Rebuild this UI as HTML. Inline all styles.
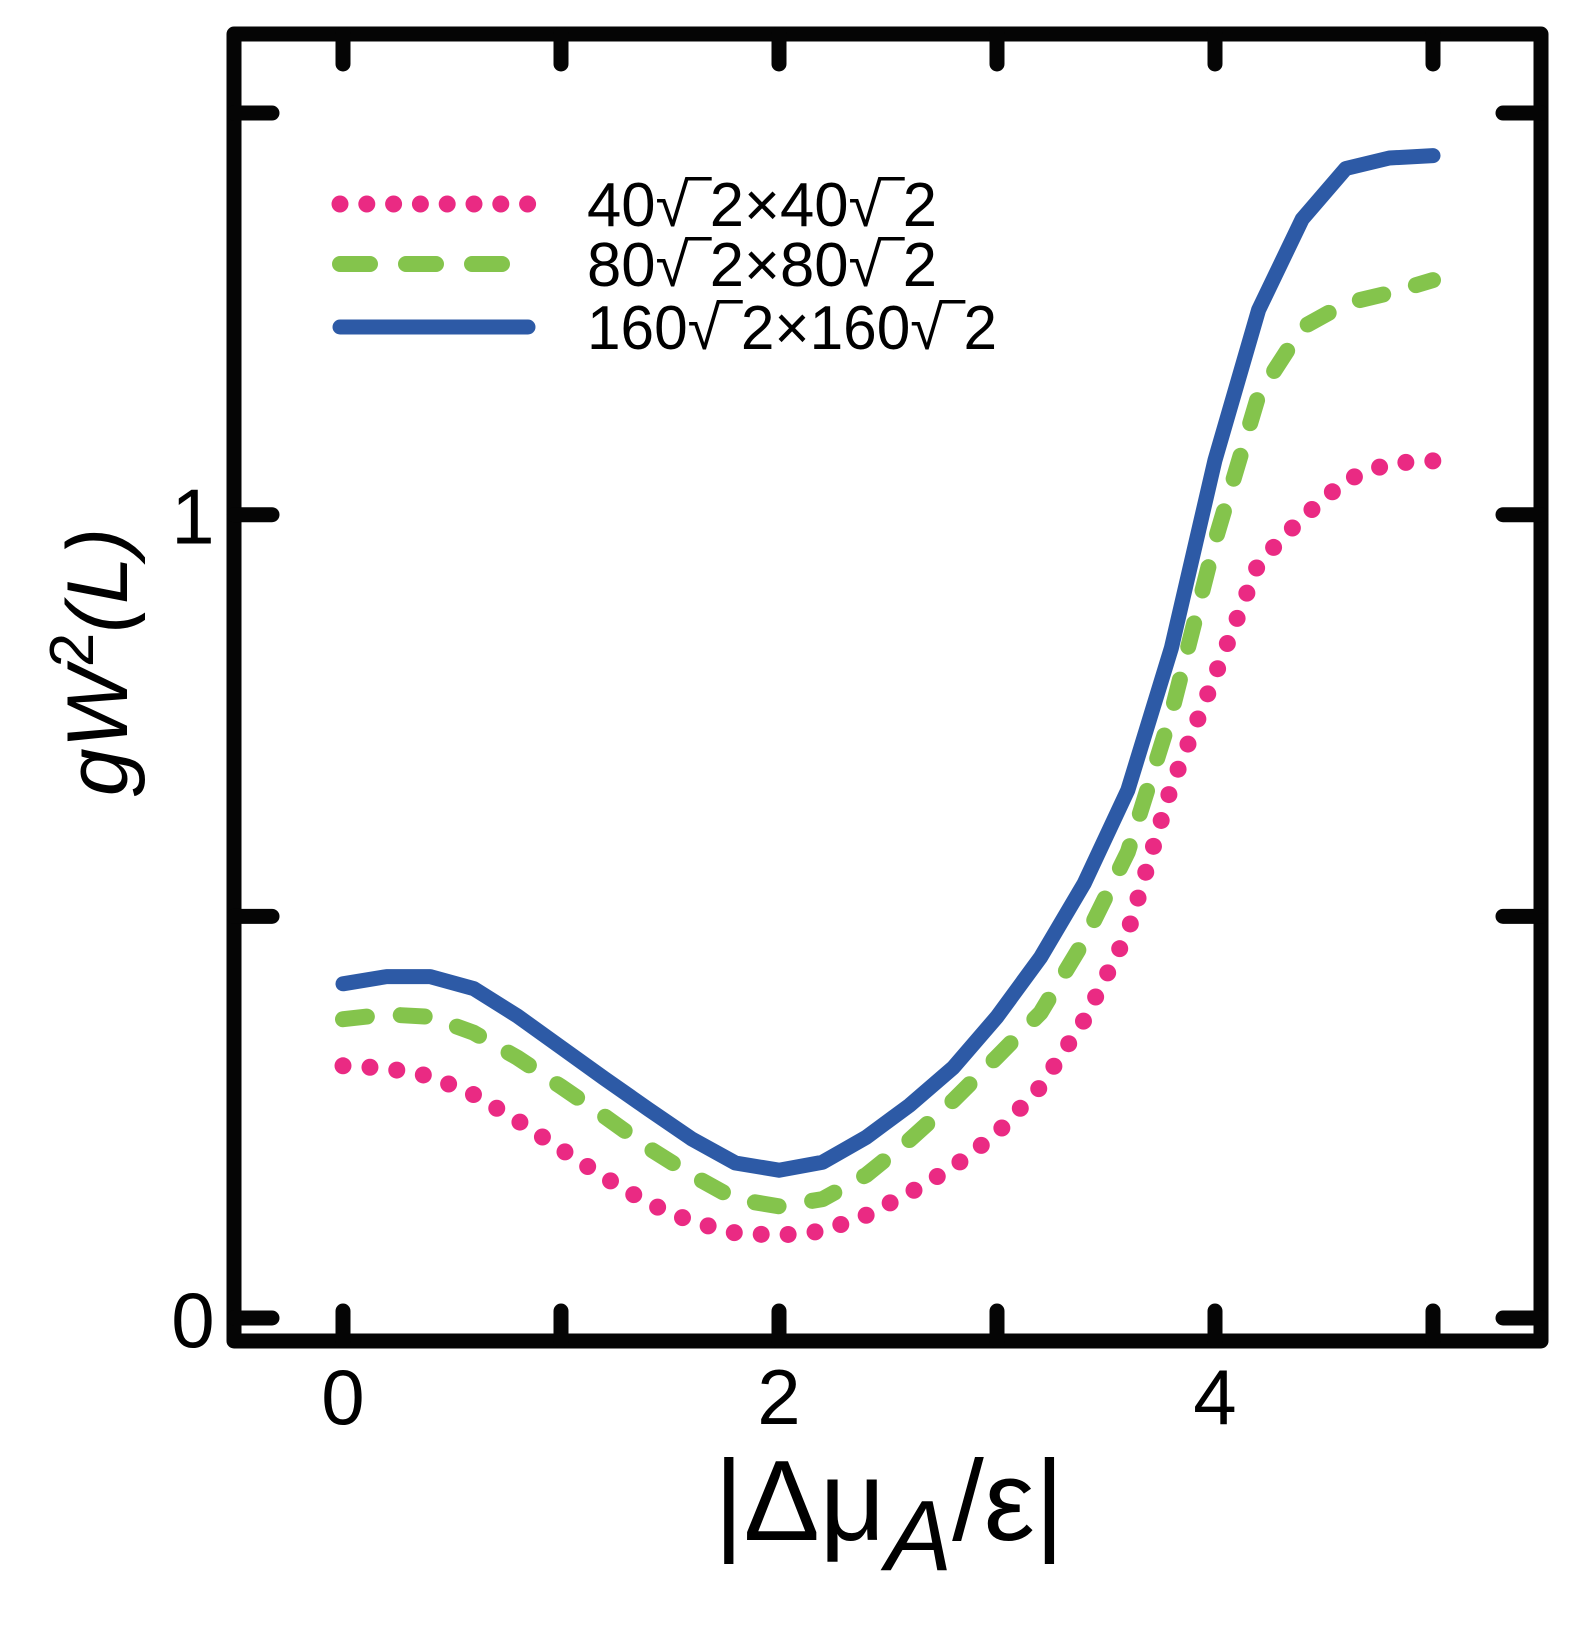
<!DOCTYPE html>
<html><head><meta charset="utf-8"><style>
html,body{margin:0;padding:0;background:#fff;}
svg{display:block;font-family:"Liberation Sans","DejaVu Sans",sans-serif;}
</style></head><body>
<svg id="chart" width="1574" height="1637" viewBox="0 0 1574 1637" xmlns="http://www.w3.org/2000/svg">
<rect x="0" y="0" width="1574" height="1637" fill="#fff"/>
<g id="series"></g>
<g id="frame"></g>
<g id="legend"></g>
<text transform="translate(127,662) rotate(-90)" x="0" y="0" font-size="86" font-style="italic" text-anchor="middle">gW<tspan font-size="62" dy="-34" font-style="normal">2</tspan><tspan dy="34">(L)</tspan></text>
<text x="714" y="1540" font-size="114">|Δμ<tspan font-style="italic" font-size="100" dy="30">A</tspan><tspan dy="-30">/ε|</tspan></text>
</svg>
<script>
const xs=[0,0.2,0.4,0.6,0.8,1.0,1.2,1.4,1.6,1.8,2.0,2.2,2.4,2.6,2.8,3.0,3.2,3.4,3.6,3.8,4.0,4.2,4.4,4.6,4.8,5.0];
const pinkVals=[0.314,0.311,0.301,0.278,0.246,0.21,0.175,0.143,0.12,0.106,0.103,0.108,0.128,0.156,0.188,0.23,0.288,0.371,0.48,0.662,0.80,0.94,0.996,1.043,1.064,1.067];
const greenVals=[0.372,0.378,0.375,0.355,0.324,0.288,0.251,0.212,0.178,0.148,0.139,0.148,0.178,0.222,0.271,0.325,0.38,0.47,0.58,0.753,0.967,1.149,1.233,1.263,1.276,1.292];
const blueVals=[0.416,0.425,0.425,0.41,0.376,0.337,0.298,0.26,0.223,0.193,0.184,0.194,0.225,0.265,0.312,0.375,0.449,0.541,0.657,0.834,1.068,1.255,1.368,1.431,1.444,1.447];
const xTicks=[0,1,2,3,4,5];
const xTickLabels=["0","","2","","4",""];
const yTicks=[0,0.5,1,1.5];
const yTickLabels=["0","","1",""];
const legendLabels=["40√‾2×40√‾2","80√‾2×80√‾2","160√‾2×160√‾2"];

const NS="http://www.w3.org/2000/svg";
const X=v=>343+v*218;
const Y=v=>1318-v*803.3;
const L=234,R=1541,T=34,B=1341;
function mk(tag,attrs,parent){const e=document.createElementNS(NS,tag);for(const k in attrs)e.setAttribute(k,attrs[k]);parent.appendChild(e);return e;}

const series=document.getElementById('series');
const styles=[
 {vals:pinkVals,color:"#ea2a83",w:17,dash:"0 27",name:"series-40"},
 {vals:greenVals,color:"#84c44c",w:16,dash:"24 34",name:"series-80"},
 {vals:blueVals,color:"#2d5aa6",w:15,dash:"",name:"series-160"}
];
styles.forEach(s=>{
 const d=xs.map((x,i)=>(i?'L':'M')+X(x).toFixed(1)+' '+Y(s.vals[i]).toFixed(1)).join(' ');
 const p=mk('path',{d:d,fill:'none',stroke:s.color,'stroke-width':s.w,'stroke-linecap':'round','stroke-linejoin':'round'},series);
 if(s.dash)p.setAttribute('stroke-dasharray',s.dash);
 
 
});

const frame=document.getElementById('frame');
const r=mk('rect',{x:L,y:T,width:R-L,height:B-T,fill:'none',stroke:'#050505','stroke-width':15,'stroke-linejoin':'round'},frame);


xTicks.forEach((t,i)=>{
 const a=mk('line',{x1:X(t),x2:X(t),y1:B,y2:B-30,stroke:'#050505','stroke-width':15,'stroke-linecap':'round'},frame);
 
 
 const b=mk('line',{x1:X(t),x2:X(t),y1:T,y2:T+30,stroke:'#050505','stroke-width':15,'stroke-linecap':'round'},frame);
 
 
 if(xTickLabels[i]){
  const tx=mk('text',{x:X(t),y:1424,'font-size':78,'text-anchor':'middle'},frame);
  tx.textContent=xTickLabels[i];
  
  
 }
});
yTicks.forEach((t,i)=>{
 const a=mk('line',{x1:L,x2:L+38,y1:Y(t),y2:Y(t),stroke:'#050505','stroke-width':15,'stroke-linecap':'round'},frame);
 
 
 const b=mk('line',{x1:R,x2:R-38,y1:Y(t),y2:Y(t),stroke:'#050505','stroke-width':15,'stroke-linecap':'round'},frame);
 
 
 if(yTickLabels[i]){
  const ty=mk('text',{x:193,y:Y(t)+29,'font-size':78,'text-anchor':'middle'},frame);
  ty.textContent=yTickLabels[i];
  
  
 }
});

const legend=document.getElementById('legend');
const rowsY=[204,264,327];
const widths=[350,350,410];
styles.forEach((s,i)=>{
 const ln=mk('line',{x1:340,x2:528,y1:rowsY[i],y2:rowsY[i],stroke:s.color,'stroke-width':s.w,'stroke-linecap':'round'},legend);
 if(s.dash)ln.setAttribute('stroke-dasharray',i===0?"0 26.8":"30 36");
 
 
 const t=mk('text',{x:587,y:rowsY[i]+22,'font-size':62,textLength:widths[i],lengthAdjust:'spacingAndGlyphs'},legend);
 t.textContent=legendLabels[i];
 
 
});
</script>
</body></html>
